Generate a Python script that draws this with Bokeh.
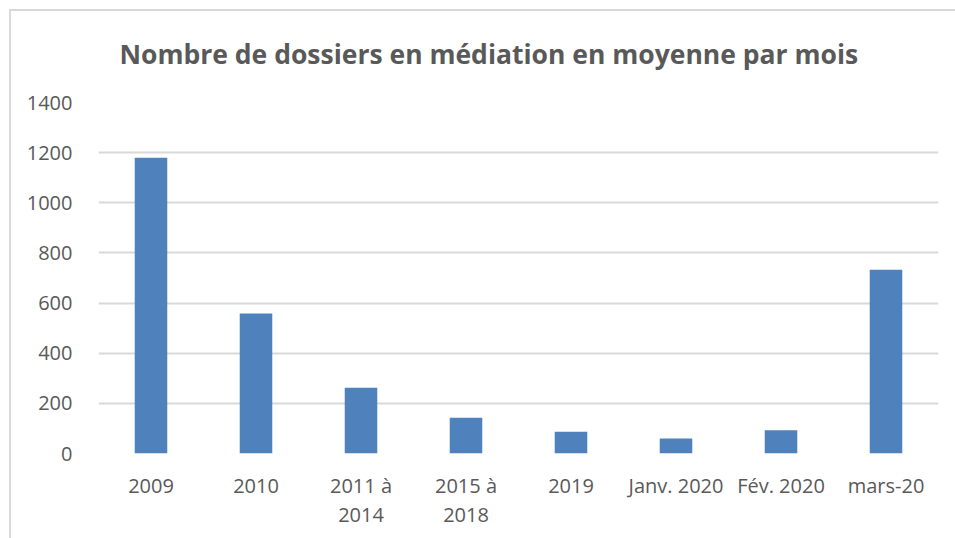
from bokeh.plotting import figure
from bokeh.models import Range1d, FixedTicker, ColumnDataSource, CategoricalAxis, CustomJSTickFormatter
from bokeh.embed import file_html
from bokeh.resources import INLINE

categories = ["2009", "2010", "2011 à 2014", "2015 à 2018", "2019", "Janv. 2020", "Fév. 2020", "mars-20"]
values = [1180, 558, 262, 143, 87, 60, 93, 733]
y_ticks = [0, 200, 400, 600, 800, 1000, 1200, 1400]
label_line1 = ["2009", "2010", "2011 à", "2015 à", "2019", "Janv. 2020", "Fév. 2020", "mars-20"]
label_line2 = ["", "", "2014", "2018", "", "", "", ""]

TXT = "#595959"
FONT = "Open Sans"
BORDER = "#d9d9d9"

src = ColumnDataSource(data=dict(cat=categories, val=values))

p = figure(x_range=categories, y_range=Range1d(0, 1400), width=955, height=538,
           output_backend="svg", toolbar_location=None,
           min_border_left=98, min_border_right=17, min_border_top=102, min_border_bottom=85)
p.border_fill_color = None
p.background_fill_color = "white"
p.styles = {
    "background": (f"linear-gradient({BORDER},{BORDER}) 9px 9px / 2px 100% no-repeat, "
                   f"linear-gradient({BORDER},{BORDER}) 9px 9px / 100% 2px no-repeat, white"),
}

p.vbar(x="cat", top="val", width=0.31, source=src, color="#4F81BD", line_color=None)

p.title.text = "Nombre de dossiers en médiation en moyenne par mois"
p.title.align = "left"
p.title.text_font = FONT
p.title.text_font_size = "26.5px"
p.title.text_font_style = "bold"
p.title.text_color = TXT
p.title.offset = 21
p.title.standoff = 62

p.outline_line_color = None
p.xgrid.grid_line_color = None
p.ygrid.grid_line_color = "#d9d9d9"
p.ygrid.grid_line_width = 2

p.yaxis.ticker = FixedTicker(ticks=y_ticks)
p.yaxis.axis_line_color = None
p.yaxis.major_tick_line_color = None
p.yaxis.minor_tick_line_color = None
p.yaxis.major_label_text_font = FONT
p.yaxis.major_label_text_font_size = "20px"
p.yaxis.major_label_text_color = TXT
p.yaxis.major_label_standoff = 20

JS = """
const i = cats.indexOf(tick);
return i >= 0 ? labels[i] : tick;
"""


def style_x(ax, standoff, labels):
    ax.axis_line_color = None
    ax.major_tick_line_color = None
    ax.major_label_text_font = FONT
    ax.major_label_text_font_size = "20px"
    ax.major_label_text_color = TXT
    ax.major_label_standoff = standoff
    ax.formatter = CustomJSTickFormatter(args=dict(cats=categories, labels=labels), code=JS)


style_x(p.xaxis[0], 12, label_line1)

xb = CategoricalAxis()
style_x(xb, 0, label_line2)
p.add_layout(xb, "below")

open("out.html", "w").write(file_html(p, INLINE))
